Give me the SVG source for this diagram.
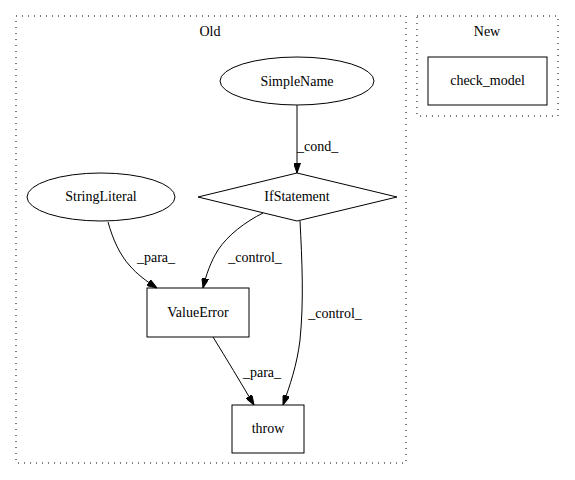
<svg xmlns="http://www.w3.org/2000/svg" width="575" height="480" viewBox="0 0 575 480">
<style>
text{font-family:"Liberation Serif","Times New Roman",serif;font-size:14px;fill:#000}
.c{text-anchor:middle}
.cl{fill:none;stroke:#000;stroke-width:1;stroke-dasharray:1,5}
.n{fill:none;stroke:#000;stroke-width:1}
.e{fill:none;stroke:#000;stroke-width:1;marker-end:url(#ah)}
</style>
<defs>
<marker id="ah" viewBox="0 0 10 7" refX="10" refY="3.5" markerWidth="10" markerHeight="7" markerUnits="userSpaceOnUse" orient="auto">
<path d="M0,0 L10,3.5 L0,7 Z" fill="#000" stroke="#000" stroke-width="1"/>
</marker>
</defs>
<rect width="575" height="480" fill="#fff"/>
<g id="cluster_old">
<rect class="cl" x="16" y="16" width="390" height="447"/>
<text class="c" x="210" y="36">Old</text>
</g>
<g id="cluster_new">
<rect class="cl" x="417" y="16" width="141" height="100"/>
<text class="c" x="487" y="36">New</text>
</g>
<g id="edges">
<path class="e" d="M297,105 L297,173"/>
<text x="297" y="151">_cond_</text>
<path class="e" d="M108,222 C113,240 120,255 130,266 C137,274 146,281 157,288"/>
<text class="c" x="156" y="262">_para_</text>
<path class="e" d="M263,213 C245,222 228,235 218,250 C211,261 206,275 203,288"/>
<text class="c" x="255" y="262">_control_</text>
<path class="e" d="M300,221 C302,260 304,300 300,340 C297,365 290,385 283,405"/>
<text class="c" x="335" y="318">_control_</text>
<path class="e" d="M213,337 C226,358 241,383 254,405"/>
<text class="c" x="262" y="377">_para_</text>
</g>
<g id="SimpleName">
<ellipse class="n" cx="297" cy="81" rx="77" ry="24"/>
<text class="c" x="297" y="86">SimpleName</text>
</g>
<g id="IfStatement">
<polygon class="n" points="297,173 397,197 297,221 198,197"/>
<text class="c" x="297" y="201">IfStatement</text>
</g>
<g id="StringLiteral">
<ellipse class="n" cx="101" cy="197" rx="74" ry="24"/>
<text class="c" x="101" y="201">StringLiteral</text>
</g>
<g id="ValueError">
<rect class="n" x="147" y="288" width="102" height="49"/>
<text class="c" x="198" y="317">ValueError</text>
</g>
<g id="throw">
<rect class="n" x="232" y="405" width="72" height="48"/>
<text class="c" x="268" y="433">throw</text>
</g>
<g id="check_model">
<rect class="n" x="428" y="57" width="119" height="48"/>
<text class="c" x="487.5" y="85">check_model</text>
</g>
</svg>
